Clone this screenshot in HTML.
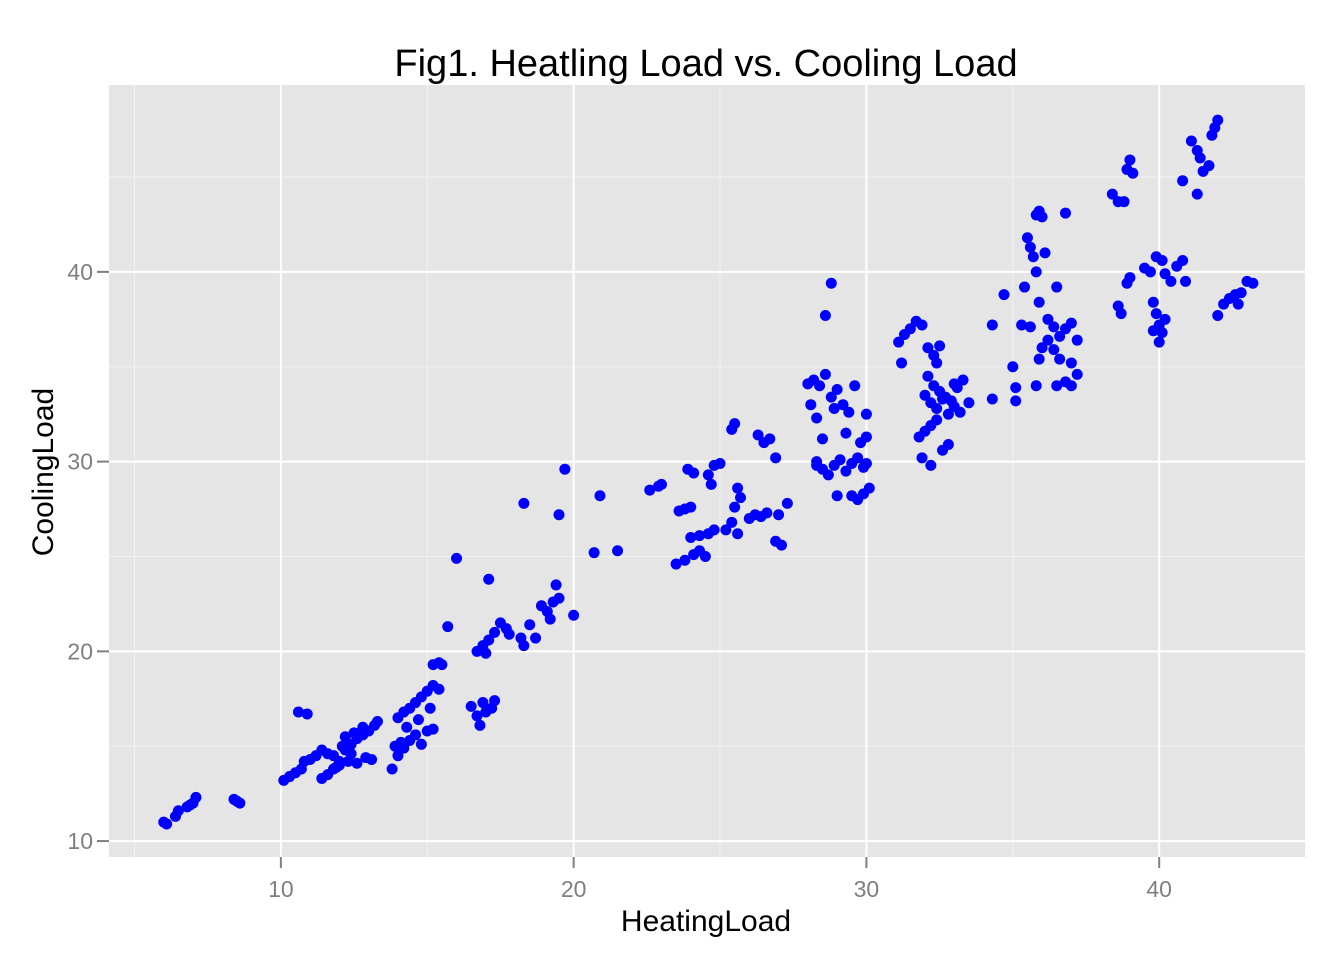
<!DOCTYPE html>
<html><head><meta charset="utf-8"><style>
body{margin:0;background:#fff;}
svg text{font-family:"Liberation Sans",sans-serif;}
</style></head><body>
<svg id="chart" width="1344" height="960" xmlns="http://www.w3.org/2000/svg">
<rect x="0" y="0" width="1344" height="960" fill="#fff"/>
<rect x="109" y="85" width="1196" height="772" fill="#e5e5e5"/>
<g id="grid"></g>
<g id="points"></g>
<g id="axes"></g>
<text x="706" y="76" font-size="38" text-anchor="middle" fill="#000">Fig1. Heatling Load vs. Cooling Load</text>
<text x="706" y="931" font-size="30" text-anchor="middle" fill="#000">HeatingLoad</text>
<text transform="translate(53,472) rotate(-90)" font-size="30" text-anchor="middle" fill="#000">CoolingLoad</text>
</svg>
<script>
const xTicks=[10,20,30,40];
const yTicks=[10,20,30,40];
const xMinor=[5,15,25,35,45];
const yMinor=[15,25,35,45];
const heating=[6.0,6.1,6.4,6.5,6.8,7.0,7.1,6.9,8.5,8.6,8.4,
10.1,10.3,10.5,10.7,10.8,11.0,11.2,11.4,11.6,11.8,12.0,12.2,12.4,12.6,12.8,13.0,13.2,13.3,12.2,12.5,12.8,11.4,11.6,11.8,12.0,12.3,12.6,12.9,13.1,10.6,10.9,12.1,12.4,11.9,
13.8,14.0,14.2,14.4,14.6,14.8,15.0,15.2,14.0,14.2,14.4,14.6,14.8,15.0,15.2,15.4,15.2,15.4,15.5,14.1,14.3,14.7,15.1,13.9,15.7,
16.5,16.7,16.8,17.0,17.2,17.3,16.9,16.7,16.9,17.1,17.0,17.3,17.5,17.7,17.8,18.2,18.3,18.5,18.7,18.9,19.1,19.2,19.3,19.5,19.4,20.0,16.0,17.1,18.3,19.5,19.7,20.7,20.9,21.5,
22.6,22.9,23.0,23.6,23.8,24.0,23.5,23.8,24.1,24.3,24.5,24.0,24.3,24.6,24.8,23.9,24.1,24.6,24.8,25.0,24.7,25.4,25.5,25.2,25.4,25.6,25.5,25.7,25.6,26.0,26.2,26.4,26.6,26.3,26.5,26.7,26.9,26.9,27.1,27.0,27.3,
28.0,28.2,28.4,28.6,28.8,28.1,28.3,28.5,28.6,28.8,28.3,28.5,28.7,28.9,29.1,29.3,29.5,29.7,29.9,29.0,29.2,29.4,29.6,29.8,30.0,29.5,29.7,29.9,30.1,29.0,30.0,28.3,28.9,29.3,30.0,
31.1,31.3,31.5,31.7,31.9,32.1,32.3,32.5,31.2,31.8,32.0,32.2,32.4,32.6,32.8,32.2,32.1,32.3,32.5,32.7,32.9,33.1,33.3,33.5,32.2,32.4,32.6,32.8,33.0,33.2,31.9,32.4,32.0,33.0,
34.3,34.3,34.7,35.0,35.1,35.1,35.3,35.4,35.5,35.6,35.7,35.8,35.8,35.9,36.0,36.1,36.8,35.9,36.0,36.2,36.4,36.6,36.8,37.0,36.2,36.4,36.6,36.8,37.0,37.2,37.0,37.2,36.5,35.8,35.9,36.5,35.6,
38.4,38.6,38.8,38.9,39.0,39.1,38.9,39.0,38.6,38.7,39.5,39.7,39.9,40.1,40.2,40.4,40.6,40.8,40.9,39.8,39.9,40.0,40.1,40.0,39.8,40.2,40.8,41.1,41.3,41.5,41.3,41.7,41.8,41.9,42.0,41.4,42.0,42.2,42.4,42.6,42.8,43.0,43.2,42.7];
const cooling=[11.0,10.9,11.3,11.6,11.8,12.0,12.3,11.9,12.1,12.0,12.2,
13.2,13.4,13.6,13.8,14.2,14.3,14.5,14.8,14.6,14.5,14.2,14.8,15.1,15.4,15.6,15.8,16.1,16.3,15.5,15.7,16.0,13.3,13.5,13.8,14.0,14.2,14.1,14.4,14.3,16.8,16.7,15.0,14.6,13.9,
13.8,14.5,14.9,15.3,15.6,15.1,15.8,15.9,16.5,16.8,17.0,17.3,17.6,17.9,18.2,18.0,19.3,19.4,19.3,15.2,16.0,16.4,17.0,15.0,21.3,
17.1,16.6,16.1,16.8,17.0,17.4,17.3,20.0,20.3,20.6,19.9,21.0,21.5,21.2,20.9,20.7,20.3,21.4,20.7,22.4,22.1,21.7,22.6,22.8,23.5,21.9,24.9,23.8,27.8,27.2,29.6,25.2,28.2,25.3,
28.5,28.7,28.8,27.4,27.5,27.6,24.6,24.8,25.1,25.3,25.0,26.0,26.1,26.2,26.4,29.6,29.4,29.3,29.8,29.9,28.8,31.7,32.0,26.4,26.8,26.2,27.6,28.1,28.6,27.0,27.2,27.1,27.3,31.4,31.0,31.2,30.2,25.8,25.6,27.2,27.8,
34.1,34.3,34.0,34.6,33.4,33.0,32.3,31.2,37.7,39.4,30.0,29.6,29.3,29.8,30.1,29.5,29.9,30.2,29.7,33.8,33.0,32.6,34.0,31.0,32.5,28.2,28.0,28.3,28.6,28.2,31.3,29.8,32.8,31.5,29.9,
36.3,36.7,37.0,37.4,37.2,36.0,35.6,36.1,35.2,31.3,31.6,31.9,32.2,30.6,30.9,29.8,34.5,34.0,33.7,33.4,33.2,33.9,34.3,33.1,33.1,32.8,33.3,32.5,32.9,32.6,30.2,35.2,33.5,34.1,
37.2,33.3,38.8,35.0,33.9,33.2,37.2,39.2,41.8,41.3,40.8,40.0,43.0,43.2,42.9,41.0,43.1,38.4,36.0,37.5,37.1,36.6,37.0,37.3,36.4,35.9,35.4,34.2,34.0,34.6,35.2,36.4,34.0,34.0,35.4,39.2,37.1,
44.1,43.7,43.7,45.4,45.9,45.2,39.4,39.7,38.2,37.8,40.2,40.0,40.8,40.6,39.9,39.5,40.3,40.6,39.5,38.4,37.8,37.2,36.8,36.3,36.9,37.5,44.8,46.9,46.4,45.3,44.1,45.6,47.2,47.6,48.0,46.0,37.7,38.3,38.6,38.8,38.9,39.5,39.4,38.3];
const X0=109,X1=1305,Y0=85,Y1=857;
const xDom=[4.13,44.98], yDom=[9.16,49.85];
function sx(v){return X0+(v-xDom[0])/(xDom[1]-xDom[0])*(X1-X0);}
function sy(v){return Y1-(v-yDom[0])/(yDom[1]-yDom[0])*(Y1-Y0);}
const NS='http://www.w3.org/2000/svg';
function mk(tag,attrs,parent){const e=document.createElementNS(NS,tag);for(const k in attrs)e.setAttribute(k,attrs[k]);parent.appendChild(e);return e;}
const grid=document.getElementById('grid'),pts=document.getElementById('points'),axes=document.getElementById('axes');
xMinor.forEach(v=>{const x=sx(v);if(x<X0||x>X1)return;const l=mk('line',{x1:x,x2:x,y1:Y0,y2:Y1,stroke:'#f2f2f2','stroke-width':1},grid);

});
yMinor.forEach(v=>{const y=sy(v);if(y<Y0||y>Y1)return;const l=mk('line',{x1:X0,x2:X1,y1:y,y2:y,stroke:'#f2f2f2','stroke-width':1},grid);

});
xTicks.forEach(v=>{const x=sx(v);const l=mk('line',{x1:x,x2:x,y1:Y0,y2:Y1,stroke:'#fff','stroke-width':2},grid);


const t=mk('line',{x1:x,x2:x,y1:Y1,y2:Y1+11,stroke:'#7f7f7f','stroke-width':2},axes);


const tx=mk('text',{x:x,y:Y1+40,'font-size':23,'text-anchor':'middle',fill:'#7f7f7f'},axes);tx.textContent=v;

});
yTicks.forEach(v=>{const y=sy(v);const l=mk('line',{x1:X0,x2:X1,y1:y,y2:y,stroke:'#fff','stroke-width':2},grid);


const t=mk('line',{x1:X0-12,x2:X0,y1:y,y2:y,stroke:'#7f7f7f','stroke-width':2},axes);


const tx=mk('text',{x:X0-16,y:y+8,'font-size':23,'text-anchor':'end',fill:'#7f7f7f'},axes);tx.textContent=v;

});
heating.forEach((h,i)=>{const c=mk('circle',{cx:sx(h),cy:sy(cooling[i]),r:5.5,fill:'#0000ff'},pts);

});
</script>
</body></html>
